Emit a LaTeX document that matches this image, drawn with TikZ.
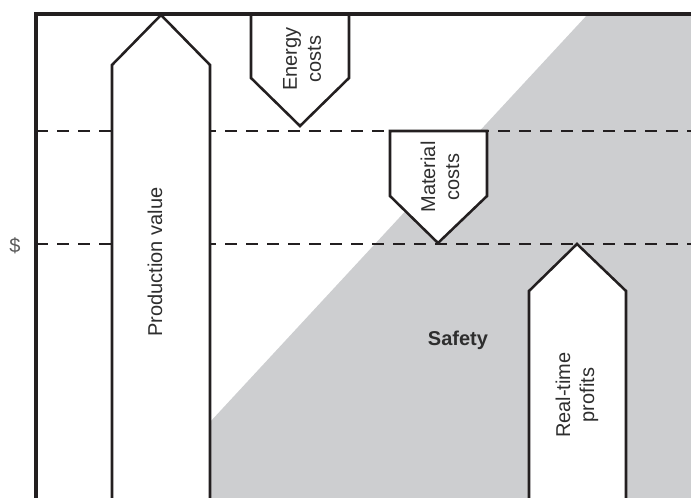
\documentclass[tikz,border=0pt]{standalone}
\usepackage{fontspec}
\setmainfont{Liberation Sans}
\usepackage{tikz}
\usepackage{xcolor}
\definecolor{ink}{HTML}{231F20}
\definecolor{safetygray}{HTML}{CDCED0}
\definecolor{labeltext}{HTML}{2E2E2E}
\definecolor{dollartext}{HTML}{5A5A5A}

\begin{document}
\begin{tikzpicture}[x=0.75pt,y=-0.75pt,
    bar/.style={draw=ink, fill=white, line width=1.9pt, line join=miter},
    level/.style={draw=ink, dash pattern=on 9pt off 6.75pt, line width=1.5pt},
    tag/.style={text=labeltext, font=\fontsize{15}{18}\selectfont, align=center, rotate=90}]
      \useasboundingbox (0,0) rectangle (691,498);
      % Shaded safety region
      \fill[safetygray] (210,422) -- (588,14) -- (691,14) -- (691,498) -- (210,498) -- cycle;
      % Dashed cost levels
      \draw[level] (36,131) -- (691,131);
      \draw[level] (36,244) -- (691,244);
      % Upward and downward block arrows
      \filldraw[bar] (112,510) -- (112,65) -- (161,15) -- (210,65) -- (210,510) -- cycle;
      \filldraw[bar] (251,14) -- (251,78) -- (300,126) -- (349,78) -- (349,14) -- cycle;
      \filldraw[bar] (390,131) -- (390,196) -- (438,243) -- (487,196) -- (487,131) -- cycle;
      \filldraw[bar] (529,510) -- (529,291) -- (577,244) -- (626,291) -- (626,510) -- cycle;
      % Axis frame
      \draw[ink, line width=2.6pt, line join=miter] (36,510) -- (36,14) -- (700,14);
      % Labels
      \node[tag] (prodval) at (155,262) {Production value};
      \node[tag] (energy) at (302,59) {Energy\\costs};
      \node[tag] (material) at (440,177) {Material\\costs};
      \node[tag] (profits) at (577,395) {Real-time\\profits};
      \node[text=labeltext, font=\bfseries\fontsize{15}{18}\selectfont] (safety) at (458,340) {Safety};
      \node[text=dollartext, font=\fontsize{15}{18}\selectfont] (dollar) at (15,246) {\$};
    \end{tikzpicture}
\end{document}
